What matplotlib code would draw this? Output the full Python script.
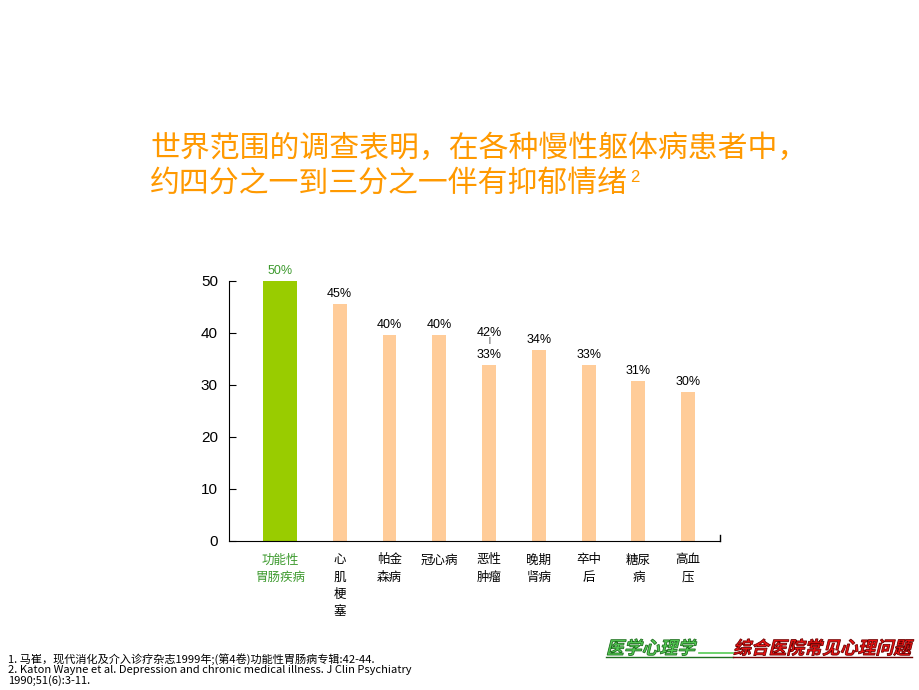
import matplotlib.pyplot as plt
from matplotlib.textpath import TextPath
from matplotlib.patches import PathPatch
from matplotlib.font_manager import FontProperties
from matplotlib.transforms import Affine2D, IdentityTransform
import numpy as np

plt.rcParams['font.family'] = ['Liberation Sans', 'Noto Sans CJK SC', 'DejaVu Sans']

# data
categories = ["功能性\n胃肠疾病", "心\n肌\n梗\n塞", "帕金\n森病", "冠心病", "恶性\n肿瘤",
              "晚期\n肾病", "卒中\n后", "糖尿\n病", "高血\n压"]
bar_values = [50, 45.6, 39.6, 39.6, 33.8, 36.7, 33.8, 30.8, 28.7]
value_labels = ["50%", "45%", "40%", "40%", "33%", "34%", "33%", "31%", "30%"]
extra_label = "42%"   # upper end of the range for 恶性肿瘤
y_ticks = [0, 10, 20, 30, 40, 50]

title1 = "世界范围的调查表明，在各种慢性躯体病患者中，"
title2 = "约四分之一到三分之一伴有抑郁情绪"
refs = ["1. 马崔，现代消化及介入诊疗杂志1999年;(第4卷)功能性胃肠病专辑:42-44.",
        "2. Katon Wayne et al. Depression and chronic medical illness. J Clin Psychiatry",
        "1990;51(6):3-11."]
banner_left = "医学心理学"
banner_right = "综合医院常见心理问题"

green = "#99CC00"
peach = "#FFCC99"
orange = "#FF9900"
green_txt = "#3D9A2E"

fig = plt.figure(figsize=(9.2, 6.9), dpi=100)
ax = fig.add_axes([229/920, 1-541/690, (720-229)/920, (541-281)/690])

x = np.arange(len(categories)) + 0.2
x[0] = 0
widths = [0.68] + [0.28]*(len(categories)-1)
colors = [green] + [peach]*(len(categories)-1)
ax.bar(x, bar_values, width=widths, color=colors, edgecolor='none')

for i, (xi, v, lab) in enumerate(zip(x, bar_values, value_labels)):
    c = green_txt if i == 0 else 'black'
    ax.annotate(lab, (xi, v), xytext=(0, 3), textcoords='offset points',
                ha='center', va='bottom', fontsize=9, color=c)
# second value for 恶性肿瘤
ax.annotate("|", (x[4], bar_values[4]), xytext=(0, 15), textcoords='offset points',
            ha='center', va='bottom', fontsize=5)
ax.annotate(extra_label, (x[4], bar_values[4]), xytext=(0, 19), textcoords='offset points',
            ha='center', va='bottom', fontsize=9)

ax.set_xlim(-1.025, 8.84)
ax.set_ylim(0, 50)
ax.set_yticks(y_ticks)
ax.tick_params(axis='y', direction='in', length=5, labelsize=11, pad=8)
ax.set_xticks(x)
ax.set_xticklabels(categories, fontsize=9, linespacing=1.4,
                   family=['Noto Sans CJK SC', 'DejaVu Sans'], va='top')
ax.tick_params(axis='x', length=0, pad=9)
ax.get_xticklabels()[0].set_color(green_txt)
for s in ['top', 'right']:
    ax.spines[s].set_visible(False)
ax.plot([1, 1], [0, 0.025], transform=ax.transAxes, color='black', lw=1, clip_on=False)

# title
fig.text(150/920, 1-148/690, title1, fontsize=21.5, color=orange, va='center',
         family=['Noto Sans CJK SC'], weight='medium')
fig.text(150/920, 1-183/690, title2, fontsize=21.5, color=orange, va='center',
         family=['Noto Sans CJK SC'], weight='medium')
fig.text(630/920, 1-177/690, "2", fontsize=12, color=orange, va='center')

# references
for k, r in enumerate(refs):
    fig.text(8/920, 1-(659+11*k)/690, r, fontsize=8, va='center',
             family=['Liberation Sans Narrow', 'Noto Sans CJK SC'])

# footer banner, slanted text drawn as paths (pixel coordinates)
fp = FontProperties(family='Noto Sans CJK SC', weight='bold')
def slanted(s, px, py, face, edge):
    tp = TextPath((0, 0), s, size=17.8, prop=fp)
    tr = Affine2D().skew_deg(14, 0).translate(px, py) + IdentityTransform()
    fig.add_artist(PathPatch(tp, transform=tr, facecolor=face, edgecolor=edge, lw=0.6))

slanted(banner_left, 606, 690-654, '#55CC55', '#1E6E1E')
slanted(banner_right, 733, 690-654, '#EE1111', '#6E0000')
fig.add_artist(plt.Line2D([699/920, 733/920], [1-653/690, 1-653/690], color='#55CC55', lw=1.2))
fig.add_artist(plt.Line2D([606/920, 733/920], [1-657/690, 1-657/690], color='#1E6E1E', lw=1))
fig.add_artist(plt.Line2D([733/920, 912/920], [1-657/690, 1-657/690], color='#6E0000', lw=1))

fig.savefig("out.png", dpi=100, facecolor='white')
